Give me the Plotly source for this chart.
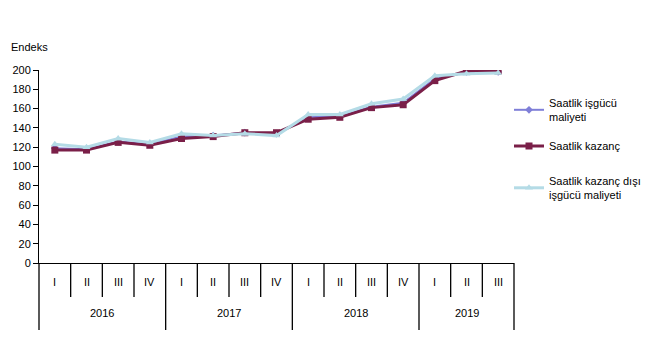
import plotly.graph_objects as go

years = ["2016", "2017", "2018", "2019"]
quarters_per_year = [4, 4, 4, 3]
quarter_names = ["I", "II", "III", "IV"]

isgucu_maliyeti = [119, 118, 126, 123, 131, 132, 135, 134, 151, 152, 162, 166, 191, 198, 198]
kazanc = [117, 117, 125, 122, 129, 131, 135, 135, 149, 151, 161, 164, 189, 199, 199]
kazanc_disi = [123, 120, 129, 125, 134, 132, 134, 132, 154, 154, 165, 170, 194, 196, 197]

series_names = ["Saatlik işgücü<br>maliyeti", "Saatlik kazanç", "Saatlik kazanç dışı<br>işgücü maliyeti"]

quarters = []
for y, n in zip(years, quarters_per_year):
    quarters += quarter_names[:n]
n = len(quarters)
x = list(range(n))

FONT = "Liberation Sans, Arial, sans-serif"

fig = go.Figure()
fig.add_trace(go.Scatter(x=x, y=isgucu_maliyeti, name=series_names[0], mode="lines+markers",
                         line=dict(color="#7f7fd8", width=2),
                         marker=dict(symbol="diamond", size=6, color="#7f7fd8"), legend="legend"))
fig.add_trace(go.Scatter(x=x, y=kazanc, name=series_names[1], mode="lines+markers",
                         line=dict(color="#7a1f48", width=3),
                         marker=dict(symbol="square", size=7, color="#7a1f48"), legend="legend2"))
fig.add_trace(go.Scatter(x=x, y=kazanc_disi, name=series_names[2], mode="lines+markers",
                         line=dict(color="#b4dbe6", width=3),
                         marker=dict(symbol="triangle-up", size=7, color="#b4dbe6"), legend="legend3"))

# plot-area geometry (pixels)
FIG_W, FIG_H = 660, 360
plot_l, plot_r, plot_t, plot_b = 39, 514, 70, 263
ph = plot_b - plot_t
pw = plot_r - plot_l


def py(pix):
    return (plot_b - pix) / ph


shapes = []
annotations = []
cum = 0
year_starts = [0]
for q in quarters_per_year:
    cum += q
    year_starts.append(cum)
for b in range(n + 1):
    px = b / n
    long = b in year_starts
    shapes.append(dict(type="line", xref="paper", yref="paper", x0=px, x1=px,
                       y0=0, y1=py(330) if long else py(297),
                       line=dict(color="black", width=1.3)))
for i, q in enumerate(quarters):
    annotations.append(dict(x=i, xref="x", y=py(282), yref="paper", yanchor="middle",
                            text=q, showarrow=False,
                            font=dict(size=11, color="black", family=FONT)))
for k, yr in enumerate(years):
    center = (year_starts[k] + year_starts[k + 1] - 1) / 2
    annotations.append(dict(x=center, xref="x", y=py(313), yref="paper", yanchor="middle",
                            text=yr, showarrow=False,
                            font=dict(size=11, color="black", family=FONT)))
annotations.append(dict(x=(9 - plot_l) / pw, xref="paper", y=py(47), yref="paper", text="Endeks",
                        showarrow=False, xanchor="left", yanchor="middle",
                        font=dict(size=11, color="black", family=FONT)))

leg = dict(font=dict(size=11, color="black", family=FONT), bgcolor="rgba(0,0,0,0)",
           xanchor="left", yanchor="middle", x=(509 - plot_l) / pw, itemwidth=30, tracegroupgap=0)

fig.update_layout(
    width=FIG_W, height=FIG_H,
    margin=dict(l=plot_l, r=FIG_W - plot_r, t=plot_t, b=FIG_H - plot_b),
    paper_bgcolor="white", plot_bgcolor="white",
    showlegend=True,
    font=dict(family=FONT, size=11, color="black"),
    xaxis=dict(range=[-0.5, n - 0.5], showticklabels=False, ticks="", showgrid=False,
               zeroline=False, showline=True, linecolor="black", linewidth=1),
    yaxis=dict(range=[0, 200], tickvals=list(range(0, 201, 20)), ticks="outside", ticklen=5,
               tickcolor="black", showgrid=False, zeroline=False, showline=True,
               linecolor="black", linewidth=1, tickfont=dict(size=11, family=FONT)),
    legend=dict(leg, y=py(110)),
    legend2=dict(leg, y=py(146)),
    legend3=dict(leg, y=py(188)),
    shapes=shapes, annotations=annotations,
)

fig.write_html(
    "out.html",
    config={"displayModeBar": False},
    post_script="document.documentElement.style.overflow='hidden';"
                "document.body.style.margin='0';document.body.style.padding='0';"
                "document.body.style.overflow='hidden';",
)
